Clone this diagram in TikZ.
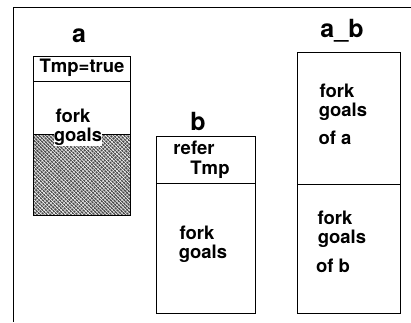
\documentclass[tikz,border=0pt]{standalone}
\usepackage{fontspec}
\setmainfont{TeX Gyre Heros}
\usetikzlibrary{patterns.meta}
\begin{document}
\begin{tikzpicture}[x=1pt,y=-1pt, line width=1pt,
        every node/.style={font=\bfseries\fontsize{18.5}{18.5}\selectfont, inner sep=0pt},
        title/.style={font=\bfseries\fontsize{25}{25}\selectfont}]
        \useasboundingbox (0,0) rectangle (411,322);
        % frame
        \coordinate (ftl) at (13,7);
        \coordinate (ftr) at (411,7);
        \coordinate (fbl) at (13,322);
        \draw (ftr)--(ftl)--(fbl);
        % box a
        \coordinate (a1) at (33,56);
        \coordinate (a2) at (130,215);
        \fill[black!70] (33,134) rectangle (a2);
        \fill[pattern={Lines[angle=-45,distance=2.4pt,line width=0.6pt]},pattern color=white] (33,134) rectangle (a2);
        \fill[pattern={Lines[angle=45,distance=3pt,line width=0.3pt]},pattern color=white] (33,134) rectangle (a2);
        \draw (a1) rectangle (a2);
        \draw (33,81)--(130,81);
        \draw (33,134)--(130,134);
        \node[title] (la) at (79,36) {a};
        \node (tmp) at (82,68) {Tmp=true};
        \node (fa) at (73,116) {fork};
        \node[fill=white, inner sep=0.3pt] (ga) at (78,137) {goals};
        % box b
        \coordinate (b1) at (156,136);
        \coordinate (b2) at (255,313);
        \draw (b1) rectangle (b2);
        \draw (156,183)--(255,183);
        \node[title] (lb) at (198,121) {b};
        \node (rb) at (194,148) {refer};
        \node (tb) at (210,170) {Tmp};
        \node (fb) at (197,233) {fork};
        \node (gb) at (203,254) {goals};
        % box a_b
        \coordinate (c1) at (297,52);
        \coordinate (c2) at (400,313);
        \draw (c1) rectangle (c2);
        \draw (297,184)--(400,184);
        \node[title] (lab) at (342,31) {a\_b};
        \node (fc1) at (337,91) {fork};
        \node (gc1) at (343,112) {goals};
        \node (oc1) at (335,138) {of a};
        \node (fc2) at (335,218) {fork};
        \node (gc2) at (342,239) {goals};
        \node (oc2) at (333,266) {of b};
    \end{tikzpicture}
\end{document}
